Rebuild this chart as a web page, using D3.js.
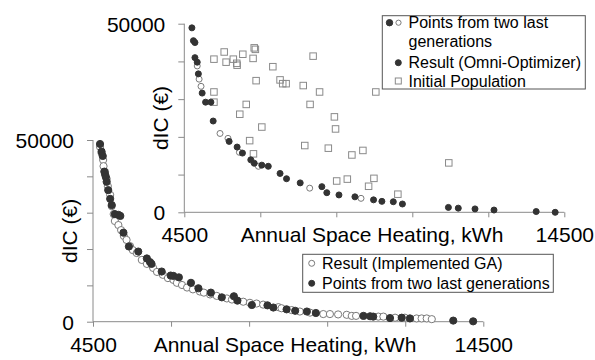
<!DOCTYPE html>
<html>
<head>
<meta charset="utf-8">
<script src="https://cdn.jsdelivr.net/npm/d3@7"></script>
<style>
  body { margin: 0; background: #fff; }
  text { font-family: Arial, "Liberation Sans", sans-serif; }
</style>
</head>
<body>
<svg id="chart" width="595" height="360"></svg>
<script>
// values: [annual space heating kWh, dIC €]
const mainGA = [
  [4680,48100],[4720,46400],[4760,44500],[4770,42800],[4810,41200],[4850,39300],
  [4880,37300],[4940,34900],[4980,31800],[5030,29600],[5060,27700],[5150,26600],
  [5220,25200],[5290,23600],[5360,22500],[5450,20800],[5520,19700],[5620,18900],
  [5750,17000],[5880,15900],[6040,14800],[6140,13700],[6290,12900],[6420,12000],
  [6560,11500],[6650,10700],[6780,10100],[6910,9400],[7060,8900],[7240,8300],
  [7340,8000],[7500,7500],[7670,7100],[7930,6400],[8060,6100],[8350,5500],
  [8520,5200],[8690,5000],[8860,4700],[9250,4000],[9330,3700],[9590,3200],
  [9800,2800],[10060,2500],[10400,2100],[10570,2100],[10780,2000],[11000,1900],
  [11130,1600],[11240,1600],[11810,1400],[11940,1400],[12240,1100],[12490,1100],
  [12790,900],[12920,900],[13050,900],[13180,700]
];
const mainLastGen = [
  [4680,48900],[4720,46800],[4750,45600],[4790,41300],[4810,40500],[4830,39800],
  [4850,38500],[4890,36200],[4940,33800],[4980,32100],[5060,29600],[5150,29400],
  [5200,29100],[5280,24500],[5420,20700],[5660,19300],[5880,17400],[5960,16400],
  [6000,15900],[6260,13800],[6490,12700],[6560,12600],[6700,12200],[7010,10700],
  [7200,9200],[7520,8000],[7800,6700],[8110,7000],[8200,5800],[8570,4600],
  [8970,4500],[9120,3900],[9460,3400],[9680,3000],[9980,2800],[10210,2400],
  [11430,1600],[11600,1500],[11680,1400],[12110,1000],[12410,1100],[12620,900],
  [13730,300],[14240,100]
];
const insetOmni = [
  [4700,48900],[4740,45500],[4780,45000],[4780,41000],[4840,39800],[4870,36700],
  [4970,31600],[5060,29200],[5200,29200],[5260,24200],[5680,18800],[5890,17300],
  [6030,15700],[6250,13900],[6340,13000],[6540,12500],[6710,12200],[7020,10300],
  [7190,8900],[7550,7800],[8120,6800],[8250,5200],[8570,4600],[8990,4100],
  [9480,3300],[9700,2900],[10000,2800],[10240,2200],[11450,1300],[11710,1100],
  [12150,900],[12650,600],[13760,200],[14260,0]
];
const insetLastGen = [
  [4840,38800],[4890,35300],[4940,33400],[5440,20900],[5650,19600],[5950,15900],
  [6450,12200],[7800,6400],[9150,3700]
];
const insetInitial = [
  [5280,40600],[5550,42500],[5600,39800],[5790,40600],[5880,39500],[5890,39000],
  [6040,41900],[6310,40800],[6340,43600],[6370,43200],[6390,34900],[5280,31900],
  [5280,29200],[6130,28600],[5960,26000],[6540,22600],[6220,19000],[6320,15500],
  [6830,38600],[7020,35100],[7090,34100],[7180,34100],[7890,41400],[7630,33600],
  [8060,31900],[7810,28600],[8450,25300],[8480,22100],[7670,17700],[8290,17000],
  [8910,15200],[9200,16400],[8510,8300],[8790,8800],[9350,6900],[9490,9000],
  [9540,31900],[10120,4800],[11460,13100]
];

const xTicks = [4500, 6500, 8500, 10500, 12500, 14500];
const yTicks = [0, 10000, 20000, 30000, 40000, 50000];
const xLabelled = [4500, 14500];
const yLabelled = [0, 50000];
const xTitle = "Annual Space Heating, kWh";
const yTitle = "dIC (€)";

const svg = d3.select("#chart");
const axisColor = "#8a8a8a";
const dark = "#333";

function panel(left, right, top, bottom, titleX) {
  const x = d3.scaleLinear().domain([4500, 14500]).range([left, right]);
  const y = d3.scaleLinear().domain([0, 50000]).range([bottom, top]);
  const g = svg.append("g");

  const xa = g.append("g")
    .attr("transform", `translate(0,${bottom})`)
    .call(d3.axisBottom(x).tickValues(xTicks).tickSize(5).tickPadding(10)
      .tickFormat(d => xLabelled.includes(d) ? String(d) : ""));
  const ya = g.append("g")
    .attr("transform", `translate(${left},0)`)
    .call(d3.axisLeft(y).tickValues(yTicks).tickSize(6).tickPadding(13)
      .tickFormat(d => yLabelled.includes(d) ? String(d) : ""));
  [xa, ya].forEach(a => {
    a.select(".domain").attr("stroke", axisColor).attr("d", null);
    a.selectAll(".tick line").attr("stroke", axisColor);
    a.selectAll("text").attr("fill", "#000").style("font-size", "21px");
  });
  xa.select(".domain").remove();
  ya.select(".domain").remove();
  g.append("line").attr("x1", left).attr("x2", right).attr("y1", bottom).attr("y2", bottom)
    .attr("stroke", axisColor);
  g.append("line").attr("x1", left).attr("x2", left).attr("y1", top).attr("y2", bottom)
    .attr("stroke", axisColor);
  ya.selectAll("text").attr("dy", "0.36em");

  g.append("text").attr("x", titleX).attr("y", bottom + 30)
    .attr("text-anchor", "middle").style("font-size", "21px").text(xTitle);
  g.append("text")
    .attr("transform", `translate(${left - 16},${(top + bottom) / 2}) rotate(-90)`)
    .attr("text-anchor", "middle").style("font-size", "21px").text(yTitle);
  return { g, x, y };
}

function circles(p, data, r, filled) {
  p.g.append("g").selectAll("circle").data(data).join("circle")
    .attr("cx", d => p.x(d[0])).attr("cy", d => p.y(d[1])).attr("r", r)
    .attr("fill", filled ? dark : "#fff")
    .attr("stroke", filled ? dark : "#7a7a7a").attr("stroke-width", 1);
}

function squares(p, data, s) {
  p.g.append("g").selectAll("rect").data(data).join("rect")
    .attr("x", d => p.x(d[0]) - s / 2).attr("y", d => p.y(d[1]) - s / 2)
    .attr("width", s).attr("height", s)
    .attr("fill", "none").attr("stroke", "#8a8a8a").attr("stroke-width", 1);
}

// main chart
const main = panel(93, 483.3, 140, 321.7, 285);
circles(main, mainGA, 3.6, false);
circles(main, mainLastGen, 3.6, true);

// inset chart
const inset = panel(184.3, 564.3, 23.7, 212.3, 372);
squares(inset, insetInitial, 6.5);
circles(inset, insetLastGen, 3, false);
circles(inset, insetOmni, 3, true);

// legends
function legendBox(x0, y0, w, h) {
  svg.append("rect").attr("x", x0).attr("y", y0).attr("width", w).attr("height", h)
    .attr("fill", "#fff").attr("stroke", "#555").attr("stroke-width", 1);
}
function legendText(x0, yc, t) {
  svg.append("text").attr("x", x0).attr("y", yc).attr("dy", "0.36em")
    .style("font-size", "16px").text(t);
}
function legendDot(cx, cy, r, filled) {
  svg.append("circle").attr("cx", cx).attr("cy", cy).attr("r", r)
    .attr("fill", filled ? dark : "#fff").attr("stroke", filled ? dark : "#7a7a7a");
}

legendBox(302.7, 254.3, 250.6, 38);
legendDot(311.7, 263.3, 3, false);
legendText(322, 263.3, "Result (Implemented GA)");
legendDot(311.7, 283.3, 3, true);
legendText(322, 283.3, "Points from two last generations");

legendBox(382.3, 15.7, 203, 73.3);
legendDot(389.5, 22.7, 3.2, true);
legendDot(398.5, 22.7, 2.6, false);
legendText(408.5, 22.7, "Points from two last");
legendText(408.5, 41.7, "generations");
legendDot(398.3, 62.7, 3, true);
legendText(408.5, 62.7, "Result (Omni-Optimizer)");
svg.append("rect").attr("x", 395.3).attr("y", 78).attr("width", 6).attr("height", 6)
  .attr("fill", "none").attr("stroke", "#8a8a8a");
legendText(408.5, 81, "Initial Population");
</script>
</body>
</html>
